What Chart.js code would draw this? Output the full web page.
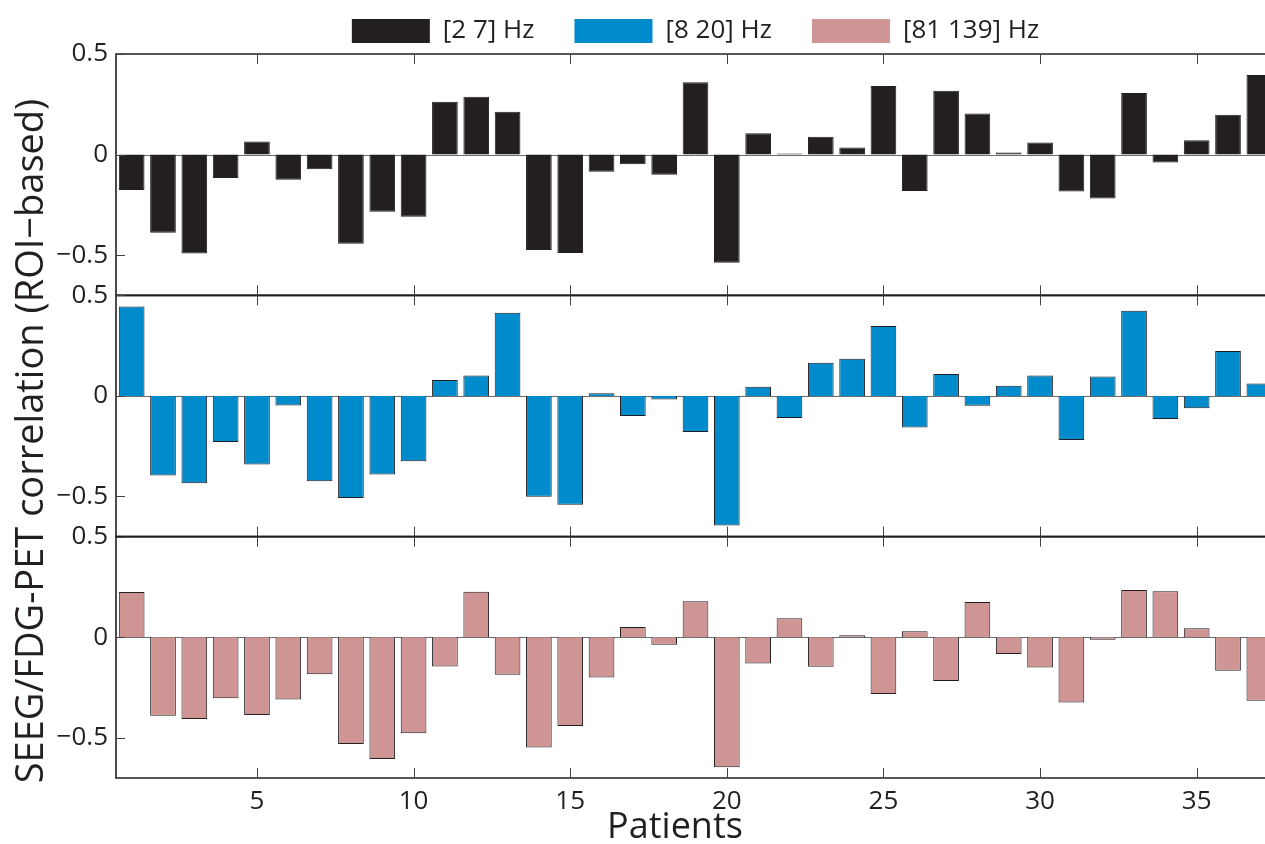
<!DOCTYPE html>
<html>
<head>
<meta charset="utf-8">
<script src="https://cdn.jsdelivr.net/npm/chart.js@4"></script>
<style>
  html, body { margin: 0; padding: 0; background: #fff; overflow: hidden; }
</style>
</head>
<body>
<canvas id="myChart" width="1280" height="844"></canvas>
<script>
const patients = Array.from({ length: 37 }, (_, i) => String(i + 1));

const seriesNames = ['[2 7] Hz', '[8 20] Hz', '[81 139] Hz'];
const seriesColors = ['#231f20', '#008bcc', '#cf9494'];

const lowBand = [-0.176, -0.389, -0.492, -0.116, 0.065, -0.125, -0.073, -0.444, -0.284, -0.309,
    0.263, 0.288, 0.213, -0.474, -0.489, -0.086, -0.048, -0.100, 0.359, -0.538,
    0.106, 0.005, 0.088, 0.035, 0.341, -0.181, 0.317, 0.204, 0.010, 0.060,
    -0.184, -0.218, 0.306, -0.040, 0.071, 0.198, 0.395];
const midBand = [0.444, -0.396, -0.434, -0.229, -0.341, -0.048, -0.425, -0.508, -0.391, -0.325,
    0.079, 0.101, 0.413, -0.501, -0.541, 0.013, -0.100, -0.018, -0.180, -0.645,
    0.045, -0.110, 0.165, 0.185, 0.347, -0.157, 0.109, -0.049, 0.051, 0.101,
    -0.219, 0.097, 0.423, -0.115, -0.062, 0.223, 0.061];
const highBand = [0.225, -0.391, -0.407, -0.303, -0.387, -0.310, -0.184, -0.531, -0.606, -0.477,
    -0.146, 0.226, -0.186, -0.548, -0.442, -0.200, 0.051, -0.038, 0.179, -0.647,
    -0.131, 0.094, -0.147, 0.010, -0.282, 0.030, -0.218, 0.175, -0.083, -0.151,
    -0.325, -0.013, 0.235, 0.228, 0.045, -0.167, -0.316];

const yTicks = [-0.5, 0, 0.5];
const xTicks = [5, 10, 15, 20, 25, 30, 35];
const yTitle = 'SEEG/FDG-PET correlation (ROI\u2212based)';
const xTitle = 'Patients';

const FONT = "'Open Sans', sans-serif";
const INK = '#231f20';
const panelIds = ['y1', 'y2', 'y3'];

function panelAxis() {
    return {
        type: 'linear',
        position: 'left',
        stack: 'panels',
        stackWeight: 1,
        min: -0.7,
        max: 0.5,
        grid: { display: false, drawTicks: false },
        border: { display: false },
        afterBuildTicks: function (scale) {
            scale.ticks = yTicks.map(v => ({ value: v }));
        },
        afterFit: function (scale) {
            scale.width = 116;
        },
        ticks: {
            padding: 8,
            color: INK,
            font: { family: FONT, size: 26 },
            callback: function (value) {
                if (value === 0) return '0';
                return value < 0 ? '\u2212' + Math.abs(value) : String(value);
            }
        }
    };
}

// frames, inner tick marks, zero baselines and the axis titles
const panelDecor = {
    id: 'panelDecor',
    beforeDatasetsDraw(chart) {
        const ctx = chart.ctx;
        const area = chart.chartArea;
        ctx.save();
        ctx.strokeStyle = '#6d6d6d';
        ctx.lineWidth = 1;
        panelIds.forEach(id => {
            const y = Math.round(chart.scales[id].getPixelForValue(0)) + 0.5;
            ctx.beginPath();
            ctx.moveTo(area.left, y);
            ctx.lineTo(area.right, y);
            ctx.stroke();
        });
        ctx.restore();
    },
    afterDatasetsDraw(chart) {
        const ctx = chart.ctx;
        const xs = chart.scales.x;
        ctx.save();
        ctx.strokeStyle = INK;
        ctx.lineWidth = 1.6;
        panelIds.forEach(id => {
            const s = chart.scales[id];
            const top = s.top, bottom = s.bottom;
            const left = chart.chartArea.left, right = chart.chartArea.right;
            ctx.beginPath();
            ctx.moveTo(right, top);
            ctx.lineTo(left, top);
            ctx.lineTo(left, bottom);
            ctx.lineTo(right, bottom);
            ctx.stroke();

            ctx.save();
            ctx.lineWidth = 1;
            ctx.strokeStyle = '#444';
            xTicks.forEach(t => {
                const x = Math.round(xs.getPixelForValue(t - 1)) + 0.5;
                ctx.beginPath();
                ctx.moveTo(x, top);
                ctx.lineTo(x, top + 10);
                ctx.moveTo(x, bottom);
                ctx.lineTo(x, bottom - 10);
                ctx.stroke();
            });
            yTicks.forEach(v => {
                const y = Math.round(s.getPixelForValue(v)) + 0.5;
                ctx.beginPath();
                ctx.moveTo(left, y);
                ctx.lineTo(left + 9, y);
                ctx.stroke();
            });
            ctx.restore();
        });
        ctx.restore();
    },
    afterDraw(chart) {
        const ctx = chart.ctx;
        ctx.save();
        ctx.fillStyle = INK;
        ctx.textAlign = 'center';
        ctx.textBaseline = 'alphabetic';

        ctx.font = '36px ' + FONT;
        ctx.fillText(xTitle, 675, 838);

        ctx.translate(43, 441);
        ctx.rotate(-Math.PI / 2);
        ctx.font = '38px ' + FONT;
        ctx.fillText(yTitle, 0, 0);
        ctx.restore();
    }
};

const bands = [lowBand, midBand, highBand];

const ctx = document.getElementById('myChart').getContext('2d');
new Chart(ctx, {
    type: 'bar',
    data: {
        labels: patients,
        datasets: bands.map((values, i) => ({
            label: seriesNames[i],
            data: values,
            yAxisID: panelIds[i],
            grouped: false,
            barPercentage: 0.82,
            categoryPercentage: 1,
            backgroundColor: seriesColors[i],
            borderColor: INK,
            borderWidth: 1,
        })),
    },
    options: {
        responsive: false,
        animation: false,
        layout: { padding: { top: -22, right: 5, bottom: 0, left: 0 } },
        plugins: {
            tooltip: { enabled: false },
            legend: {
                position: 'top',
                fullSize: false,
                labels: {
                    boxWidth: 78,
                    boxHeight: 24,
                    padding: 40,
                    color: INK,
                    font: { family: FONT, size: 26 },
                    generateLabels: function (chart) {
                        return Chart.defaults.plugins.legend.labels.generateLabels(chart)
                            .map(item => Object.assign(item, { lineWidth: 0, strokeStyle: item.fillStyle }));
                    }
                }
            }
        },
        scales: {
            x: {
                type: 'category',
                offset: true,
                grid: { display: false, drawTicks: false },
                border: { display: false },
                afterFit: function (scale) {
                    scale.height = 66;
                },
                ticks: {
                    autoSkip: false,
                    maxRotation: 0,
                    padding: 8,
                    color: INK,
                    font: { family: FONT, size: 26 },
                    callback: function (value) {
                        const n = value + 1;
                        return xTicks.includes(n) ? String(n) : '';
                    }
                }
            },
            y3: panelAxis(),
            y2: panelAxis(),
            y1: panelAxis(),
        }
    },
    plugins: [panelDecor]
});
</script>
</body>
</html>
